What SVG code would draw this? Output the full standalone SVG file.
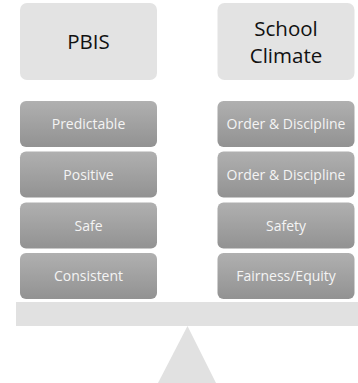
<svg xmlns="http://www.w3.org/2000/svg" width="358" height="383" viewBox="0 0 358 383">
<defs>
<linearGradient id="g" x1="0" y1="0" x2="0" y2="1">
<stop offset="0" stop-color="#b0b0b0"/>
<stop offset="1" stop-color="#929292"/>
</linearGradient>
<style>
.hd{fill:#e3e3e3}
.hdt{font-family:"Open Sans","Liberation Sans",sans-serif;font-size:20.5px;fill:#111;text-anchor:middle}
.it{fill:url(#g)}
.itt{font-family:"Open Sans","Liberation Sans",sans-serif;font-size:14px;fill:#f4f4f4;text-anchor:middle}
.base{fill:#e1e1e1}
</style>
</defs>
<rect width="358" height="383" fill="#fff"/>
<g id="pbis"><rect class="hd" x="20" y="3" width="137" height="77" rx="7"/><text class="hdt" x="88.5" y="49">PBIS</text></g>
<g id="climate"><rect class="hd" x="217.5" y="3" width="137" height="77" rx="7"/><text class="hdt" x="286" y="36">School</text><text class="hdt" x="286" y="62.5">Climate</text></g>
<g id="predictable"><rect class="it" x="20" y="101" width="137" height="46" rx="6"/><text class="itt" x="88.5" y="129">Predictable</text></g>
<g id="positive"><rect class="it" x="20" y="151.5" width="137" height="46" rx="6"/><text class="itt" x="88.5" y="179.5">Positive</text></g>
<g id="safe"><rect class="it" x="20" y="202.5" width="137" height="46" rx="6"/><text class="itt" x="88.5" y="230.5">Safe</text></g>
<g id="consistent"><rect class="it" x="20" y="253" width="137" height="46" rx="6"/><text class="itt" x="88.5" y="281">Consistent</text></g>
<g id="order1"><rect class="it" x="217.5" y="101" width="137" height="46" rx="6"/><text class="itt" x="286" y="129">Order &amp; Discipline</text></g>
<g id="order2"><rect class="it" x="217.5" y="151.5" width="137" height="46" rx="6"/><text class="itt" x="286" y="179.5">Order &amp; Discipline</text></g>
<g id="safety"><rect class="it" x="217.5" y="202.5" width="137" height="46" rx="6"/><text class="itt" x="286" y="230.5">Safety</text></g>
<g id="fairness"><rect class="it" x="217.5" y="253" width="137" height="46" rx="6"/><text class="itt" x="286" y="281">Fairness/Equity</text></g>
<g id="connectors"></g>
<g id="scale">
<rect class="base" x="16" y="302" width="342" height="24"/>
<polygon class="base" points="187.5,326 216,383 158,383"/>
</g>
</svg>
